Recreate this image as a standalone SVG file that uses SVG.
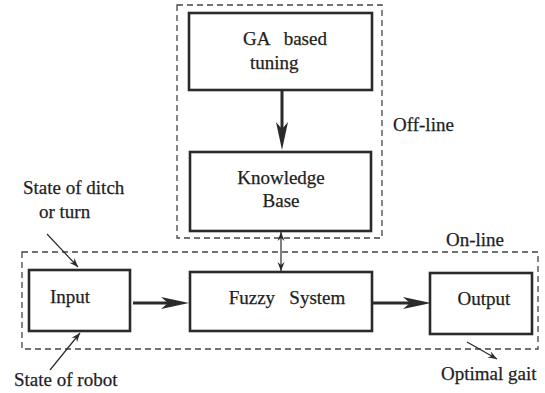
<svg xmlns="http://www.w3.org/2000/svg" width="545" height="393" viewBox="0 0 545 393">
<style>
.box{fill:#fff;stroke:#2a2a2a;stroke-width:2.6}
.dash{fill:none;stroke:#444;stroke-width:1.3;stroke-dasharray:6 4}
.t{font-family:"Liberation Serif","Times New Roman",serif;font-size:19px;fill:#1e1e1e;stroke:#1e1e1e;stroke-width:0.25}
.main{stroke:#2a2a2a;stroke-width:3;fill:none}
.thin{stroke:#2a2a2a;stroke-width:1.2;fill:none}
</style>
<defs>
<marker id="big" viewBox="-30 -8 32 16" markerWidth="32" markerHeight="16" refX="-20" refY="0" orient="auto" markerUnits="userSpaceOnUse">
<path d="M0,0 L-28,-6 L-21,0 L-28,6 Z" fill="#2a2a2a"/>
</marker>
<marker id="small" viewBox="-10 -5 12 10" markerWidth="12" markerHeight="10" refX="0" refY="0" orient="auto" markerUnits="userSpaceOnUse">
<path d="M0,0 L-9,-3.5 L-6,0 L-9,3.5 Z" fill="#2a2a2a"/>
</marker>
<marker id="smallStart" viewBox="-2 -5 12 10" markerWidth="12" markerHeight="10" refX="0" refY="0" orient="auto" markerUnits="userSpaceOnUse">
<path d="M0,0 L9,-3.5 L6,0 L9,3.5 Z" fill="#2a2a2a"/>
</marker>
</defs>
<g id="offline-region">
<rect class="dash" x="177" y="5" width="205" height="233"/>
<text class="t" x="393" y="131">Off-line</text>
</g>
<g id="online-region">
<rect class="dash" x="22" y="252" width="516" height="97"/>
<text class="t" x="446" y="246">On-line</text>
</g>
<g id="ga">
<rect class="box" x="189" y="13" width="183" height="77"/>
<text class="t" x="243" y="45" xml:space="preserve">GA   based</text>
<text class="t" x="250" y="69">tuning</text>
</g>
<g id="kb">
<rect class="box" x="190" y="152" width="181" height="79"/>
<text class="t" x="281" y="184" text-anchor="middle">Knowledge</text>
<text class="t" x="281" y="207" text-anchor="middle">Base</text>
</g>
<g id="input">
<rect class="box" x="29" y="270" width="101" height="61"/>
<text class="t" x="70" y="303" text-anchor="middle">Input</text>
</g>
<g id="fuzzy">
<rect class="box" x="190" y="272" width="182" height="59"/>
<text class="t" x="287" y="304" text-anchor="middle" xml:space="preserve">Fuzzy   System</text>
</g>
<g id="output">
<rect class="box" x="430" y="273" width="102" height="61"/>
<text class="t" x="484" y="305" text-anchor="middle">Output</text>
</g>
<g id="labels">
<text class="t" x="23" y="194">State of ditch</text>
<text class="t" x="39" y="218">or turn</text>
<text class="t" x="14" y="386">State of robot</text>
<text class="t" x="441" y="380">Optimal gait</text>
</g>
<g id="connectors">
<line class="main" x1="282" y1="90" x2="282" y2="130" marker-end="url(#big)"/>
<line class="main" x1="133" y1="303" x2="169" y2="303" marker-end="url(#big)"/>
<line class="main" x1="372" y1="303" x2="411" y2="303" marker-end="url(#big)"/>
<line class="thin" x1="281" y1="232" x2="281" y2="271" marker-start="url(#smallStart)" marker-end="url(#small)"/>
<line class="thin" x1="47" y1="234" x2="78" y2="267" marker-end="url(#small)"/>
<line class="thin" x1="50" y1="370" x2="80" y2="333" marker-end="url(#small)"/>
<line class="thin" x1="467" y1="342" x2="497" y2="359" marker-end="url(#small)"/>
</g>
</svg>
